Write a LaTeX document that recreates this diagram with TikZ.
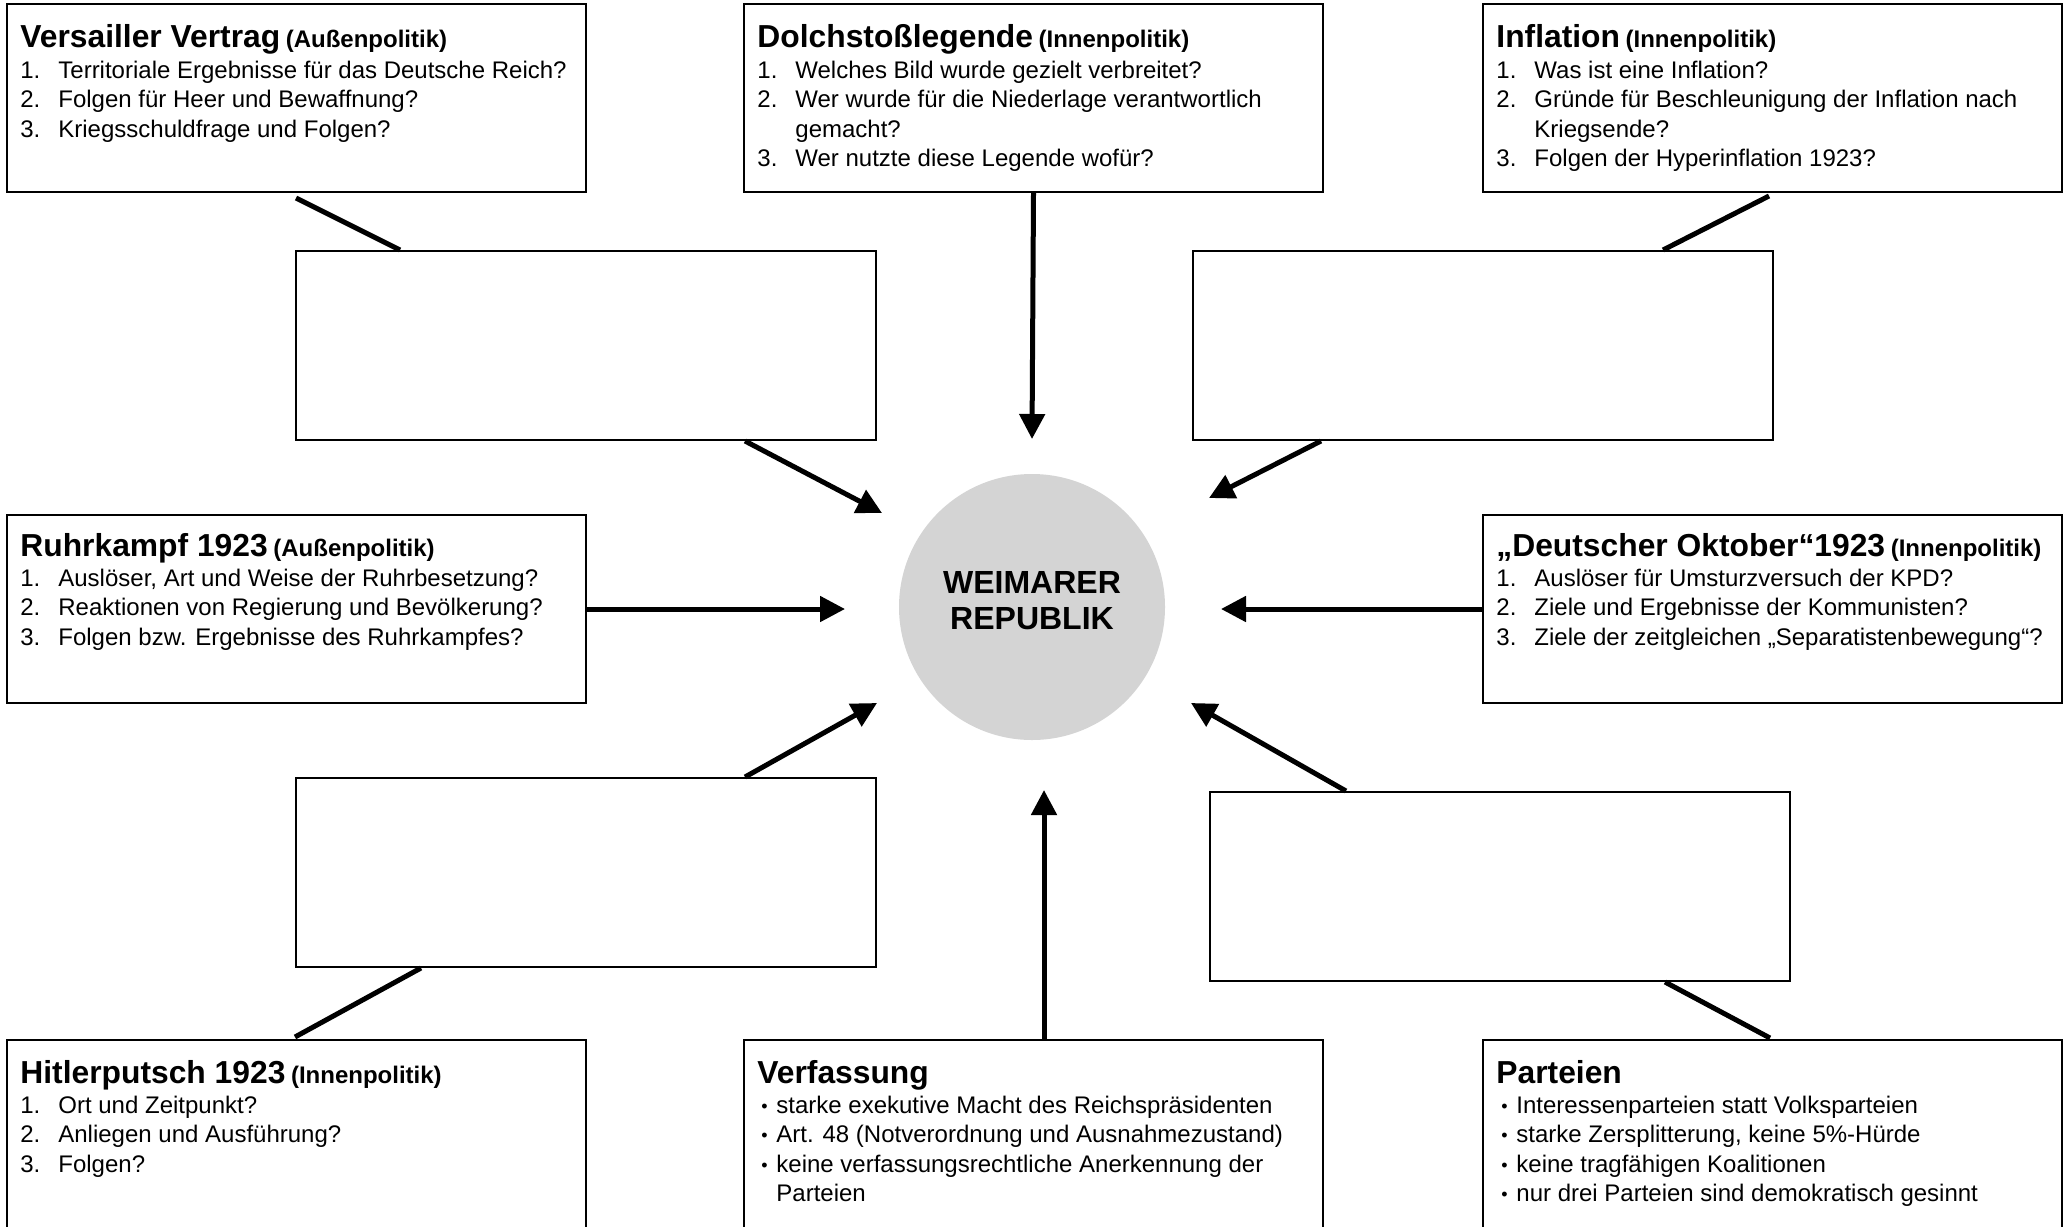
\documentclass[tikz,border=0pt]{standalone}
\usepackage{fontspec}
\setmainfont{Liberation Sans}
\usetikzlibrary{arrows.meta,calc}
\definecolor{circgray}{HTML}{D4D4D4}
\newcommand{\wrTitle}[2]{{\fontsize{15.9}{18}\selectfont\bfseries #1}\ {\fontsize{12}{14}\selectfont\bfseries #2}}
\newcommand{\wrItem}[2]{\makebox[19pt][l]{#1}#2}
\newcommand{\wrBul}[1]{\makebox[7.5pt][l]{\raisebox{0.5pt}{\fontsize{9}{10}\selectfont\textbullet}}#1}
\begin{document}
\begin{tikzpicture}[x=0.5pt,y=-0.5pt,
  box/.style={draw, line width=1pt, rectangle, anchor=north west, inner sep=0pt},
  bigbox/.style={box, minimum width=289.5pt, minimum height=94pt},
  blank/.style={box, minimum width=290pt, minimum height=94.5pt},
  openbox/.style={box, minimum width=289.5pt, minimum height=105pt},
  hd/.style={anchor=base west, inner sep=0pt},
  txt/.style={anchor=base west, inner sep=0pt, font=\fontsize{12}{14}\selectfont},
  ctxt/.style={anchor=base, inner sep=0pt, font=\fontsize{16}{18}\selectfont\bfseries},
  conn/.style={line width=2.5pt},
  arr/.style={conn, -{Triangle[length=12.5pt,width=12.5pt]}}]
\useasboundingbox (0,0) rectangle (2065,1226);
\clip (0,0) rectangle (2065,1226);
\fill[white] (0,0) rectangle (2065,1226);

% boxes
\node[bigbox] (vv) at (6,3) {};
\node[bigbox] (dl) at (743,3) {};
\node[bigbox] (inf) at (1482,3) {};
\node[blank] (b1) at (295,250) {};
\node[blank] (b2) at (1192,250) {};
\node[bigbox] (ruhr) at (6,514) {};
\node[bigbox] (okt) at (1482,514) {};
\node[blank] (b3) at (295,777) {};
\node[blank] (b4) at (1209,791) {};
\node[openbox] (hit) at (6,1039) {};
\node[openbox] (verf) at (743,1039) {};
\node[openbox] (part) at (1482,1039) {};

% centre
\node[circle, fill=circgray, minimum size=133pt, inner sep=0pt] (wr) at (1032,607) {};
\node[ctxt] (wr1) at (1032,593) {WEIMARER};
\node[ctxt] (wr2) at (1032,629) {REPUBLIK};

% texts: Versailler Vertrag
\node[hd] (vvt) at (20,47) {\wrTitle{Versailler Vertrag}{(Außenpolitik)}};
\node[txt] (vv1) at (20,78) {\wrItem{1.}{Territoriale Ergebnisse für das Deutsche Reich?}};
\node[txt] (vv2) at (20,107) {\wrItem{2.}{Folgen für Heer und Bewaffnung?}};
\node[txt] (vv3) at (20,137) {\wrItem{3.}{Kriegsschuldfrage und Folgen?}};
% Dolchstosslegende
\node[hd] (dlt) at (757,47) {\wrTitle{Dolchstoßlegende}{(Innenpolitik)}};
\node[txt] (dl1) at (757,78) {\wrItem{1.}{Welches Bild wurde gezielt verbreitet?}};
\node[txt] (dl2) at (757,107) {\wrItem{2.}{Wer wurde für die Niederlage verantwortlich}};
\node[txt] (dl2b) at (795,137) {gemacht?};
\node[txt] (dl3) at (757,166) {\wrItem{3.}{Wer nutzte diese Legende wofür?}};
% Inflation
\node[hd] (inft) at (1496,47) {\wrTitle{Inflation}{(Innenpolitik)}};
\node[txt] (inf1) at (1496,78) {\wrItem{1.}{Was ist eine Inflation?}};
\node[txt] (inf2) at (1496,107) {\wrItem{2.}{Gründe für Beschleunigung der Inflation nach}};
\node[txt] (inf2b) at (1534,137) {Kriegsende?};
\node[txt] (inf3) at (1496,166) {\wrItem{3.}{Folgen der Hyperinflation 1923?}};
% Ruhrkampf
\node[hd] (ruhrt) at (20,556) {\wrTitle{Ruhrkampf 1923}{(Außenpolitik)}};
\node[txt] (ruhr1) at (20,586) {\wrItem{1.}{Auslöser, Art und Weise der Ruhrbesetzung?}};
\node[txt] (ruhr2) at (20,615) {\wrItem{2.}{Reaktionen von Regierung und Bevölkerung?}};
\node[txt] (ruhr3) at (20,645) {\wrItem{3.}{Folgen bzw. Ergebnisse des Ruhrkampfes?}};
% Deutscher Oktober
\node[hd] (oktt) at (1496,556) {{\fontsize{15.9}{18}\selectfont\bfseries „Deutscher Oktober“1923}\ {\fontsize{12}{14}\selectfont\bfseries (Innenpolitik)}};
\node[txt] (okt1) at (1496,586) {\wrItem{1.}{Auslöser für Umsturzversuch der KPD?}};
\node[txt] (okt2) at (1496,615) {\wrItem{2.}{Ziele und Ergebnisse der Kommunisten?}};
\node[txt] (okt3) at (1496,645) {\wrItem{3.}{Ziele der zeitgleichen „Separatistenbewegung“?}};
% Hitlerputsch
\node[hd] (hitt) at (20,1083) {\wrTitle{Hitlerputsch 1923}{(Innenpolitik)}};
\node[txt] (hit1) at (20,1113) {\wrItem{1.}{Ort und Zeitpunkt?}};
\node[txt] (hit2) at (20,1142) {\wrItem{2.}{Anliegen und Ausführung?}};
\node[txt] (hit3) at (20,1172) {\wrItem{3.}{Folgen?}};
% Verfassung
\node[hd] (verft) at (757,1083) {{\fontsize{15.9}{18}\selectfont\bfseries Verfassung}};
\node[txt] (verf1) at (761,1113) {\wrBul{starke exekutive Macht des Reichspräsidenten}};
\node[txt] (verf2) at (761,1142) {\wrBul{Art. 48 (Notverordnung und Ausnahmezustand)}};
\node[txt] (verf3) at (761,1172) {\wrBul{keine verfassungsrechtliche Anerkennung der}};
\node[txt] (verf3b) at (776,1201) {Parteien};
% Parteien
\node[hd] (partt) at (1496,1083) {{\fontsize{15.9}{18}\selectfont\bfseries Parteien}};
\node[txt] (part1) at (1501,1113) {\wrBul{Interessenparteien statt Volksparteien}};
\node[txt] (part2) at (1501,1142) {\wrBul{starke Zersplitterung, keine 5\%-Hürde}};
\node[txt] (part3) at (1501,1172) {\wrBul{keine tragfähigen Koalitionen}};
\node[txt] (part4) at (1501,1201) {\wrBul{nur drei Parteien sind demokratisch gesinnt}};

% arrow tip coordinates near the centre
\coordinate (tipL) at ($(wr.center)+(-187,0)$);
\coordinate (tipR) at ($(wr.center)+(189,0)$);

% connectors
\draw[conn] ($(vv.south west)+(290,5)$) -- ($(b1.north west)+(105,0)$);
\draw[arr] ($(b1.south west)+(450,0)$) -- ($(wr.center)+(-150,-94)$);
\draw[arr] (dl.south) -- ($(wr.center)+(0,-168)$);
\draw[conn] ($(inf.south west)+(287,3)$) -- ($(b2.north west)+(471,0)$);
\draw[arr] ($(b2.south west)+(129,0)$) -- ($(wr.center)+(177,-109)$);
\draw[arr] (ruhr.east) -- (tipL |- ruhr.east);
\draw[arr] (okt.west) -- (tipR |- okt.west);
\draw[arr] ($(b3.north west)+(450,0)$) -- ($(wr.center)+(-155,96)$);
\draw[conn] ($(hit.north west)+(289,-2)$) -- ($(b3.south west)+(126,0)$);
\draw[arr] ($(verf.north west)+(301,0)$) -- ($(wr.center)+(12,183)$);
\draw[arr] ($(b4.north west)+(137,0)$) -- ($(wr.center)+(159,96)$);
\draw[conn] ($(part.north west)+(288,-1)$) -- ($(b4.south west)+(456,0)$);
\end{tikzpicture}
\end{document}
